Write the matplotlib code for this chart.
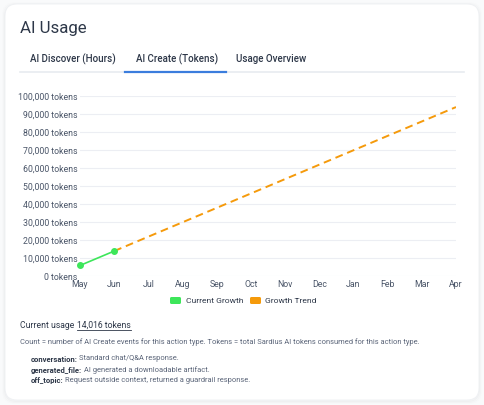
import matplotlib
matplotlib.use("Agg")
import matplotlib.pyplot as plt
from matplotlib.patches import FancyBboxPatch

plt.rcParams['font.family'] = ['Roboto', 'DejaVu Sans']

months = ['May', 'Jun', 'Jul', 'Aug', 'Sep', 'Oct', 'Nov', 'Dec', 'Jan', 'Feb', 'Mar', 'Apr']
current_idx = [0, 1]
current_vals = [6016, 14016]
trend_idx = [1, 11]
trend_vals = [14016, 94016]
yticks = [0, 10000, 20000, 30000, 40000, 50000, 60000, 70000, 80000, 90000, 100000]
tabs = ['AI Discover (Hours)', 'AI Create (Tokens)', 'Usage Overview']
notes = [('conversation', 'Standard chat/Q&A response.'),
         ('generated_file', 'AI generated a downloadable artifact.'),
         ('off_topic', 'Request outside context, returned a guardrail response.')]

W, H = 484, 405
fig = plt.figure(figsize=(W / 100, H / 100), dpi=100)
fig.patch.set_facecolor('#f9fafb')

def fx(px):
    return px / W

def fy(py):
    return 1 - py / H

# card with soft shadow
bg = fig.add_axes([0, 0, 1, 1])
bg.set_xlim(0, W)
bg.set_ylim(H, 0)
bg.axis('off')
for i, a in enumerate([0.025, 0.015, 0.008]):
    bg.add_patch(FancyBboxPatch((5 - i, 4 - i + 1), 474 + 2 * i, 396 + 2 * i,
                                boxstyle='round,pad=0,rounding_size=12',
                                fc='none', ec=(0, 0, 0, a), lw=1.5))
bg.add_patch(FancyBboxPatch((5, 4), 474, 396, boxstyle='round,pad=0,rounding_size=12',
                            fc='white', ec='#eef0f3', lw=0.6))

dark = '#2d3748'
mid = '#4a5568'
muted = '#5a6478'

bg.text(20, 28, 'AI Usage', fontsize=12.2, color=dark, va='center', ha='left')

tab_x = [30, 136, 236]
for t, x in zip(tabs, tab_x):
    bg.text(x, 59, t, fontsize=7.0, color=dark, va='center', ha='left', fontweight='medium')
bg.plot([20, 464], [72, 72], color='#e8ebf0', lw=1.2)
bg.plot([125, 226], [72, 72], color='#3b7ddd', lw=1.6)

# chart
ax = fig.add_axes([fx(80), fy(276.3), fx(456) - fx(80), fy(96.3) - fy(276.3)])
ax.plot(trend_idx, trend_vals, color='#f59a0b', lw=1.4, dashes=(4, 2.5))
ax.plot(current_idx, current_vals, color='#3de65a', lw=1.2, marker='o', ms=4, clip_on=False)
ax.set_xlim(0, len(months) - 1)
ax.set_ylim(0, 100000)
ax.set_xticks(range(len(months)))
ax.set_xticklabels(months)
ax.set_yticks(yticks)
ax.set_yticklabels([f'{v:,} tokens' for v in yticks])
ax.tick_params(length=0, labelsize=6.3, labelcolor=mid, pad=2)
ax.tick_params(axis='x', pad=3)
ax.grid(axis='y', color='#eceef3', lw=0.8)
for s in ax.spines.values():
    s.set_visible(False)
ax.set_facecolor('none')
ax.set_axisbelow(True)

# legend
bg.add_patch(FancyBboxPatch((170, 297), 11, 7, boxstyle='round,pad=0,rounding_size=1.5',
                            fc='#3de65a', ec='none'))
bg.text(186, 301, 'Current Growth', fontsize=6.1, color=dark, va='center', ha='left')
bg.add_patch(FancyBboxPatch((250, 297), 11, 7, boxstyle='round,pad=0,rounding_size=1.5',
                            fc='#f59a0b', ec='none'))
bg.text(265, 301, 'Growth Trend', fontsize=6.1, color=dark, va='center', ha='left')

# footer
fig.canvas.draw()
r = fig.canvas.get_renderer()
t1 = bg.text(20, 325, 'Current usage', fontsize=6.2, color=dark, va='center', ha='left')
x2 = 20 + t1.get_window_extent(r).width + 3
t2 = bg.text(x2, 325, '14,016 tokens', fontsize=6.2, color=dark, va='center', ha='left')
bg.plot([x2, x2 + t2.get_window_extent(r).width], [330, 330], color=dark, lw=0.6)
bg.text(20, 342, 'Count = number of AI Create events for this action type. Tokens = total Sardius AI tokens consumed for this action type.',
        fontsize=5.4, color=muted, va='center', ha='left')
for i, (k, v) in enumerate(notes):
    y = 359 + i * 11
    tk = bg.text(31, y, k + ':', fontsize=5.5, color=dark, va='center', ha='left', fontweight='bold')
    bb = tk.get_window_extent(r)
    bg.text(31 + bb.width + 1.5, y, v, fontsize=5.4, color=muted, va='center', ha='left')

fig.savefig('out.png', dpi=100, facecolor=fig.get_facecolor())
